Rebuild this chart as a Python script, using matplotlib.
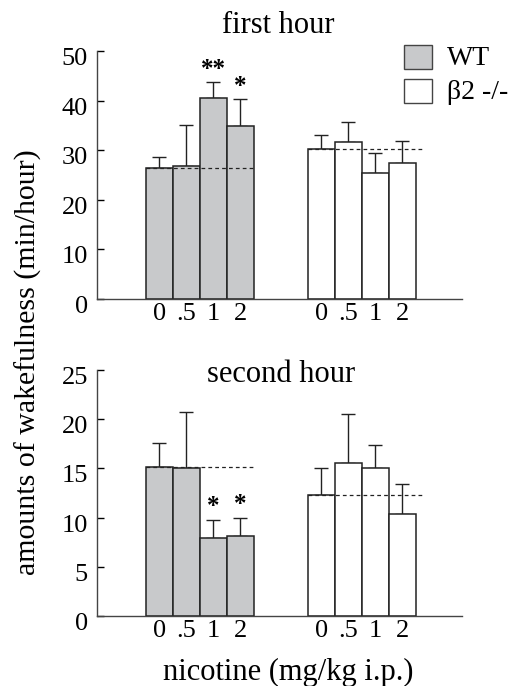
import numpy as np
import matplotlib.pyplot as plt
from matplotlib.patches import Rectangle
from matplotlib.transforms import ScaledTranslation

plt.rcParams['font.family'] = ['Liberation Serif', 'DejaVu Serif']

# doses shown under each group of bars
doses = ['0', '.5', '1', '2']

# first hour (min/hour)
wt_first = [26.4, 26.9, 40.6, 34.9]
wt_first_err = [2.2, 8.2, 3.1, 5.4]
ko_first = [30.2, 31.7, 25.5, 27.4]
ko_first_err = [2.9, 3.9, 3.9, 4.5]
stars_first = ['', '', '**', '*']

# second hour (min/hour)
wt_second = [15.1, 15.0, 7.9, 8.1]
wt_second_err = [2.5, 5.7, 1.9, 1.9]
ko_second = [12.3, 15.5, 15.0, 10.4]
ko_second_err = [2.7, 5.0, 2.4, 3.0]
stars_second = ['', '', '*', '*']

WT_COLOR = '#c8c9cb'
EDGE = '#222222'

wt_x = np.arange(4)
ko_x = np.arange(4) + 6


def draw_panel(fig, ax, wt, wt_err, ko, ko_err, stars, ymax, step):
    for xs, vals, errs, fc in [(wt_x, wt, wt_err, WT_COLOR), (ko_x, ko, ko_err, 'white')]:
        ax.errorbar(xs, vals, yerr=[np.zeros(4), errs], fmt='none',
                    ecolor=EDGE, elinewidth=1.0, capsize=5, capthick=1.0, zorder=1)
        ax.bar(xs, vals, width=1.0, color=fc, edgecolor=EDGE, linewidth=1.1, zorder=2)
    # dashed line at control level
    ax.plot([wt_x[0] - 0.5, wt_x[-1] + 0.5], [wt[0], wt[0]], ls=(0, (3, 2.5)),
            color=EDGE, lw=0.9, zorder=3)
    ax.plot([ko_x[0] - 0.5, ko_x[-1] + 0.8], [ko[0], ko[0]], ls=(0, (3, 2.5)),
            color=EDGE, lw=0.9, zorder=3)
    for xi, v, e, s in zip(wt_x, wt, wt_err, stars):
        if s:
            ax.text(xi, v + e + ymax * 0.005, s, ha='center', va='bottom',
                    fontsize=18, fontweight='bold')

    ax.set_xlim(-2.31, 11.21)
    ax.set_ylim(0, ymax)
    ax.set_xticks(list(wt_x) + list(ko_x))
    ax.set_xticklabels(doses + doses)
    ax.set_yticks(np.arange(0, ymax + 1, step))
    ax.tick_params(axis='x', length=0, labelsize=19, pad=3)
    ax.tick_params(axis='y', direction='in', length=5, width=1, labelsize=19, pad=6.5)
    # labels sit a little below their ticks in the original
    shift = ScaledTranslation(0, -4 / 72, fig.dpi_scale_trans)
    for lab in ax.get_yticklabels():
        lab.set_transform(lab.get_transform() + shift)
    for side in ['top', 'right']:
        ax.spines[side].set_visible(False)
    for side in ['left', 'bottom']:
        ax.spines[side].set_linewidth(1.0)
        ax.spines[side].set_color('#444444')


W, H = 517, 686
fig = plt.figure(figsize=(W / 100, H / 100), dpi=100)

ax1 = fig.add_axes([97 / W, 1 - 299 / H, 365 / W, 248 / H])
draw_panel(fig, ax1, wt_first, wt_first_err, ko_first, ko_first_err, stars_first, 50, 10)

ax2 = fig.add_axes([97 / W, 1 - 616 / H, 365 / W, 246 / H])
draw_panel(fig, ax2, wt_second, wt_second_err, ko_second, ko_second_err, stars_second, 25, 5)

fig.text(278 / W, 1 - 33 / H, 'first hour', ha='center', va='baseline', fontsize=22)
fig.text(281 / W, 1 - 382 / H, 'second hour', ha='center', va='baseline', fontsize=22)
fig.text(288 / W, 1 - 680 / H, 'nicotine (mg/kg i.p.)', ha='center', va='baseline', fontsize=22)
fig.text(28 / W, 1 - 362 / H, 'amounts of wakefulness (min/hour)', rotation=90,
         ha='center', va='center', fontsize=21.5)

# legend boxes
for y_top, fc, label in [(45, WT_COLOR, 'WT'), (79, 'white', 'β2 -/-')]:
    fig.add_artist(Rectangle((404 / W, 1 - (y_top + 24) / H), 28 / W, 24 / H,
                             transform=fig.transFigure, facecolor=fc,
                             edgecolor='#444444', linewidth=1.0))
    fig.text(447 / W, 1 - (y_top + 20) / H, label, ha='left', va='baseline', fontsize=20)

fig.savefig('out.png', dpi=100)
